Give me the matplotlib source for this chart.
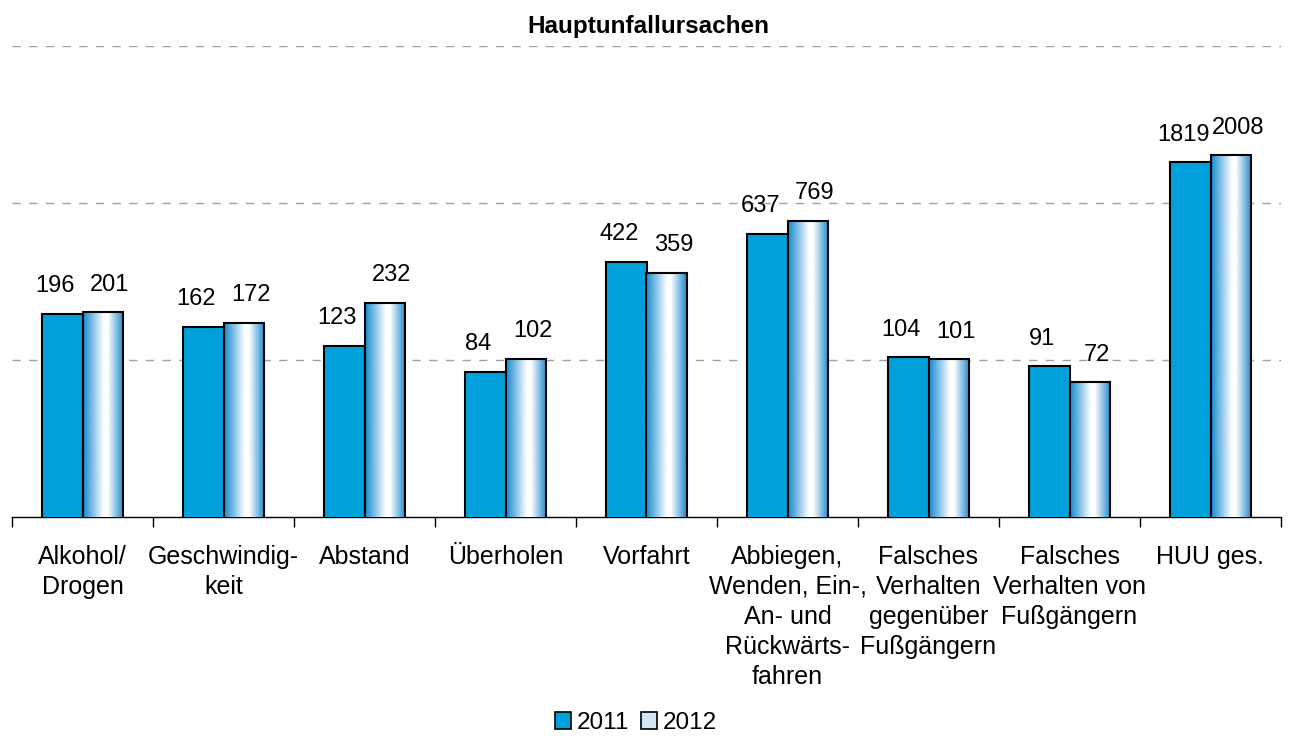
import numpy as np
import matplotlib
matplotlib.use("Agg")
import matplotlib.pyplot as plt
from matplotlib.colors import LinearSegmentedColormap
from matplotlib.ticker import FixedLocator, NullFormatter, NullLocator
from matplotlib.patches import Patch

plt.rcParams["font.family"] = ["Liberation Sans", "DejaVu Sans"]

categories = [
    "Alkohol/\nDrogen",
    "Geschwindig-\nkeit",
    "Abstand",
    "Überholen",
    "Vorfahrt",
    "Abbiegen,\nWenden, Ein-,\nAn- und\nRückwärts-\nfahren",
    "Falsches\nVerhalten\ngegenüber\nFußgängern",
    "Falsches\nVerhalten von\nFußgängern",
    "HUU ges.",
]
values_2011 = [196, 162, 123, 84, 422, 637, 104, 91, 1819]
values_2012 = [201, 172, 232, 102, 359, 769, 101, 72, 2008]
series_names = ["2011", "2012"]

blue = "#00A0DB"
grad_cmap = LinearSegmentedColormap.from_list(
    "grad", [(0.0, "#1A8CD0"), (0.5, "#FFFFFF"), (0.6, "#FFFFFF"), (1.0, "#1385CC")]
)

fig = plt.figure(figsize=(12.9, 7.38), dpi=100)
ax = fig.add_axes([12 / 1290, 1 - 517 / 738, (1281 - 12) / 1290, (517 - 46) / 738])

x = np.arange(len(categories))
w = 0.29

bars1 = ax.bar(x - w / 2, values_2011, w, color=blue, edgecolor="black",
               linewidth=1.5, zorder=3)
bars2 = ax.bar(x + w / 2, values_2012, w, color="none", edgecolor="black",
               linewidth=1.5, zorder=4)

ax.set_yscale("log")

# gradient fill for the 2012 bars
grad = np.linspace(0, 1, 256).reshape(1, -1)
for b in bars2:
    x0 = b.get_x()
    x1 = x0 + b.get_width()
    im = ax.imshow(grad, cmap=grad_cmap, extent=[x0, x1, 10, b.get_height()],
                   aspect="auto", zorder=3, interpolation="bicubic")
    im.set_clip_path(b)
ax.set_xlim(-0.5, len(categories) - 0.5)
ax.set_ylim(10, 10000)

# value labels, pushed slightly outwards like in the original
for bs, vals, dx in [(bars1, values_2011, -5), (bars2, values_2012, 5)]:
    for b, v in zip(bs, vals):
        ax.annotate(str(v), (b.get_x() + b.get_width() / 2, v),
                    xytext=(dx, 12), textcoords="offset points",
                    ha="center", va="bottom", fontsize=17)

# grid
ax.yaxis.set_major_locator(FixedLocator([100, 1000, 10000]))
ax.yaxis.set_minor_locator(NullLocator())
ax.yaxis.set_major_formatter(NullFormatter())
ax.tick_params(axis="y", length=0)
ax.grid(axis="y", color="#A0A0A0", linestyle=(0, (6, 6)), linewidth=1.0, zorder=0)

for s in ["left", "right", "top"]:
    ax.spines[s].set_visible(False)
ax.spines["bottom"].set_linewidth(1.0)

ax.set_xticks(x)
ax.set_xticklabels(categories, fontsize=18, linespacing=1.32, va="top")
ax.tick_params(axis="x", which="major", length=0, pad=20)
ax.set_xticks(np.arange(-0.5, len(categories), 1.0), minor=True)
ax.tick_params(axis="x", which="minor", length=7, width=1.0, direction="out")

fig.text(648 / 1290, 1 - 27 / 738, "Hauptunfallursachen", ha="center",
         va="center", fontsize=17.5, fontweight="bold")

handles = [
    Patch(facecolor=blue, edgecolor="black", linewidth=1.2),
    Patch(facecolor="#CFE6F6", edgecolor="black", linewidth=1.2),
]
fig.legend(handles, series_names, loc="center", bbox_to_anchor=(636 / 1290, 1 - 723 / 738),
           ncol=2, frameon=False, fontsize=17.5, handlelength=0.65, handleheight=0.65,
           handletextpad=0.25, columnspacing=0.5)

fig.savefig("out.png", dpi=100)
